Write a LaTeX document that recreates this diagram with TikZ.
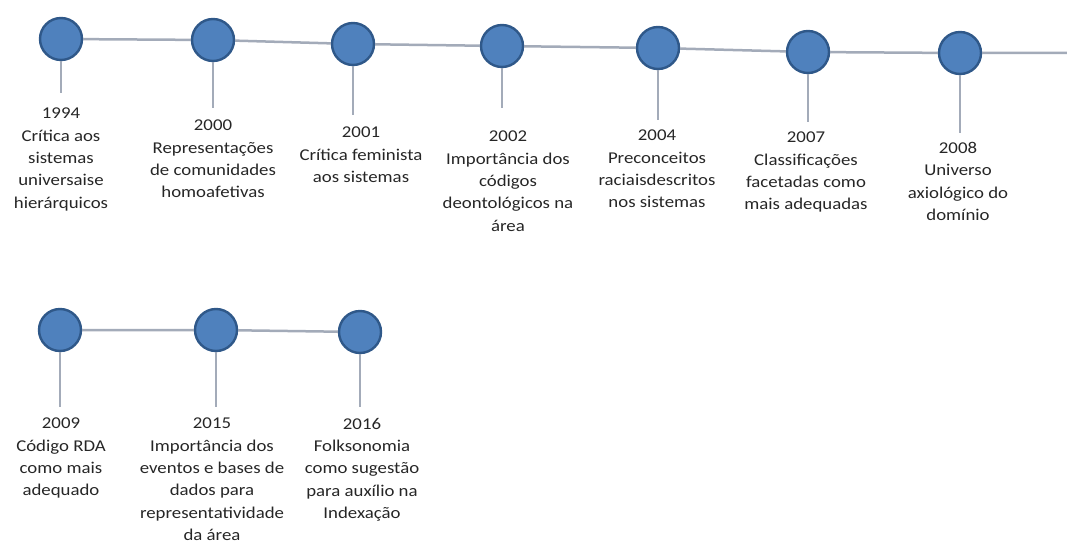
\documentclass[tikz,border=0pt]{standalone}
\usepackage{fontspec}
\setmainfont{Carlito}[FakeStretch=1.14]
\definecolor{dotblue}{HTML}{4F81BD}
\definecolor{dotedge}{HTML}{2F5889}
\definecolor{linegray}{HTML}{A3ABB9}
\tikzset{
  dot/.style={circle,fill=dotblue,draw=dotedge,line width=2.4pt,minimum size=42pt,inner sep=0pt},
  link/.style={draw=linegray,line width=2.5pt},
  event/.style={anchor=north,align=center,inner sep=0pt,text=black!85,font=\fontsize{16.5}{22.3}\selectfont}
}
\begin{document}
\begin{tikzpicture}[x=1pt,y=-1pt]
        \useasboundingbox (0,0) rectangle (1067,543);
        % first row
        \node[dot] (d1994) at (61,39) {};
        \node[dot] (d2000) at (213,40) {};
        \node[dot] (d2001) at (353,44) {};
        \node[dot] (d2002) at (502,46) {};
        \node[dot] (d2004) at (658,48) {};
        \node[dot] (d2007) at (808,52) {};
        \node[dot] (d2008) at (960,53) {};
        \coordinate (end) at (1067,53);
        \draw[link] (d1994) -- (d2000) -- (d2001) -- (d2002) -- (d2004) -- (d2007) -- (d2008) -- (end);

        \coordinate (s1994) at (61,93);
        \coordinate (s2000) at (213,108);
        \coordinate (s2001) at (353,115);
        \coordinate (s2002) at (502,108);
        \coordinate (s2004) at (658,120);
        \coordinate (s2007) at (808,122);
        \coordinate (s2008) at (960,133);
        \draw[link] (d1994) -- (s1994);
        \draw[link] (d2000) -- (s2000);
        \draw[link] (d2001) -- (s2001);
        \draw[link] (d2002) -- (s2002);
        \draw[link] (d2004) -- (s2004);
        \draw[link] (d2007) -- (s2007);
        \draw[link] (d2008) -- (s2008);

        \node[event] (t1994) at (61,108) {1994\\Crítica aos\\sistemas\\universaise\\hierárquicos};
        \node[event] (t2000) at (213,120) {2000\\Representações\\de comunidades\\homoafetivas};
        \node[event] (t2001) at (361,127) {2001\\Crítica feminista\\aos sistemas};
        \node[event] (t2002) at (508,131) {2002\\Importância dos\\códigos\\deontológicos na\\área};
        \node[event] (t2004) at (657,130) {2004\\Preconceitos\\raciaisdescritos\\nos sistemas};
        \node[event] (t2007) at (806,132) {2007\\Classificações\\facetadas como\\mais adequadas};
        \node[event] (t2008) at (958,142) {2008\\Universo\\axiológico do\\domínio};

        % second row
        \node[dot] (d2009) at (60,330) {};
        \node[dot] (d2015) at (216,330) {};
        \node[dot] (d2016) at (360,332) {};
        \draw[link] (d2009) -- (d2015) -- (d2016);

        \coordinate (s2009) at (60,407);
        \coordinate (s2015) at (216,407);
        \coordinate (s2016) at (360,407);
        \draw[link] (d2009) -- (s2009);
        \draw[link] (d2015) -- (s2015);
        \draw[link] (d2016) -- (s2016);

        \node[event] (t2009) at (61,418) {2009\\Código RDA\\como mais\\adequado};
        \node[event] (t2015) at (212,418) {2015\\Importância dos\\eventos e bases de\\dados para\\representatividade\\da área};
        \node[event] (t2016) at (362,418) {2016\\Folksonomia\\como sugestão\\para auxílio na\\Indexação};
\end{tikzpicture}
\end{document}
